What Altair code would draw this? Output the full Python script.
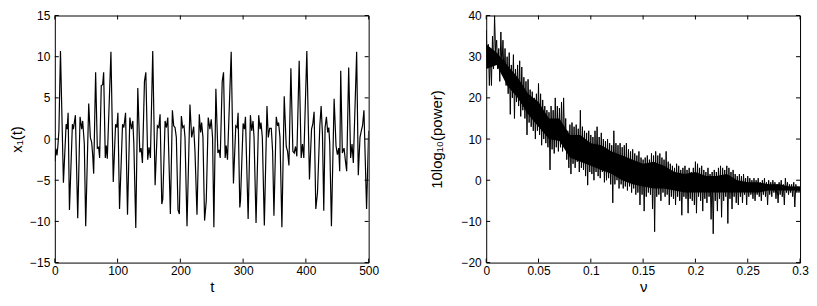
import altair as alt
import pandas as pd

# ---- left panel: x1(t) time series (extrema) ----
T = [0, 2, 3.5, 5, 6.5, 9.0, 13.7, 18.0, 19.6, 21.2, 23.3, 28.0, 29.6, 32.8, 36.5,
     40.2, 42.8, 44.4, 47.0, 49.2, 54.0, 56.6, 58.7, 60.3, 61.9, 65.0, 67.7, 69.8,
     71.4, 74.0, 76.2, 77.8, 80.4, 82.0, 83.6, 89.4, 93.1, 96.8, 98.9, 100.5, 103.1,
     107.9, 110.0, 112.7, 115.8, 119.5, 122.2, 124.3, 125.9, 129.0, 132.2, 135.4,
     137.5, 139.6, 142.8, 145.0, 148.0, 150.1, 152.3, 156.0, 159.8, 163.4, 165.7,
     167.7, 170.4, 172.0, 175.7, 177.8, 180.0, 184.1, 187.3, 189.4, 191.5, 193.6,
     196.3, 198.4, 201.6, 203.7, 205.8, 207.4, 210.6, 215.3, 218.0, 219.6, 221.2,
     223.3, 226.5, 230.2, 232.3, 233.9, 236.0, 238.6, 241.3, 244.4, 247.1, 249.2,
     251.3, 253.4, 256.6, 259.8, 261.9, 263.5, 266.7, 268.8, 271.4, 273.0, 275.1,
     281.0, 284.6, 288.3, 290.4, 292.0, 294.7, 295.8, 300.0, 302.1, 303.7, 308.0,
     311.6, 313.7, 315.8, 317.4, 320.6, 324.8, 327.0, 328.5, 330.6, 333.8, 338.0,
     340.1, 342.3, 344.9, 347.0, 349.1, 352.8, 355.0, 356.5, 358.7, 361.8, 365.5,
     368.7, 370.8, 373.0, 376.1, 379.3, 381.4, 383.5, 385.6, 389.3, 392.5, 394.6,
     396.7, 401.5, 405.7, 409.0, 411.0, 413.1, 415.8, 418.5, 422.2, 424.3, 426.4,
     428.5, 430.6, 432.7, 434.8, 436.5, 438.0, 440.7, 445.0, 448.0, 450.2, 452.3,
     453.9, 455.5, 458.1, 460.8, 462.9, 465.0, 468.2, 471.3, 473.5, 475.6, 480.9,
     483.5, 486.2, 488.3, 490.4, 492.5, 496.7, 500.0]
X1 = [-2.7, -1.2, -2.0, -0.7, 1.0, 10.7, -5.3, 1.8, 1.2, 3.2, -8.6, 1.8, 1.2, 2.9, -9.6,
      2.7, 1.2, 2.2, -0.6, -10.6, 4.3, 0.2, -0.4, -1.9, -4.2, 8.1, -1.1, -1.0,
      -2.3, 6.5, 6.6, 8.1, -2.3, -0.8, -2.4, 10.6, -5.2, 1.8, 1.4, 3.2, -8.5,
      1.8, 1.4, 3.2, -9.2, 2.6, 1.2, 2.2, -0.6, -10.8, 6.2, -1.6,
      -1.1, -2.9, 7.0, 8.1, -2.5, -1.0, -2.3, 10.7, -5.6, 1.6, 1.4,
      3.0, -7.9, -7.3, 2.2, 1.4, 2.6, -9.1, 3.5, 1.6, 1.4, 0.2,
      -8.6, -9.1, 2.8, 1.4, 1.6, 0.2, -10.6, 4.2, 0.2, 0.8, 1.5,
      -1.5, -9.2, 3.0, 0.8, 2.0, 0.2, -9.9, -7.5, 2.6, 1.2, 2.4,
      0.2, -10.7, 6.1, -1.7, -1.3, -2.3, 7.0, 8.1, -2.3, -0.8, -2.5,
      10.6, -5.4, 1.6, 1.4, 3.2, -8.3, -7.5, 1.9, 1.2, 2.7, -9.7,
      2.9, 1.0, 2.2, 0.2, -10.2, 2.9, 1.2, 2.0, 0.2, -10.5, 4.0,
      0.2, 1.3, 1.3, -1.5, -9.3, 2.7, 1.6, 2.0, 0.2, -10.7, 5.2,
      -0.9, -1.5, -3.2, 8.6, -1.5, -1.7, -0.9, -2.1, 9.5, -2.3, -0.6,
      -2.3, 10.7, -4.9, 1.2, 1.8, 3.3, -8.5, -6.5, 1.6, 4.0, 0.6,
      -8.7, 1.4, 2.7, 0.8, 1.4, -0.5, -10.6, 4.9, -0.8, -1.9, -1.1,
      -3.9, 8.3, -1.7, -1.1, -2.6, -3.9, 8.7, -2.3, -0.6, -2.9, 10.6,
      -4.4, 0.2, 1.0, 1.7, 3.5, -8.5, 1.0]

# ---- right panel: power spectrum, upper / lower edges of the band ----
NU_STEP = 0.002
UPPER = [36.5, 33, 31, 35, 40, 34, 32, 36, 34, 32, 30, 31, 28, 30.5, 27, 28, 29, 27.5,
         25, 24, 24.5, 22, 21.5, 20, 21, 23.5, 21, 19.5, 18, 17, 16.5, 18, 17, 20, 18,
         17.5, 19, 20, 15, 12, 13.5, 14, 13, 13.5, 12.5, 17, 13, 12, 11.5, 12, 11, 10.5,
         12, 13, 10.5, 11.5, 10, 9.5, 10, 9, 8.5, 12, 9, 8.5, 9, 8, 8.5, 9, 7.5, 7, 7.5,
         6.5, 6, 7, 5.5, 5, 5.5, 6, 5, 6.5, 6, 7, 6, 6.5, 5.5, 5, 7, 4.5, 4, 3.5, 3, 4,
         3.5, 2.5, 3, 3.5, 2.5, 3, 2, 3, 4.5, 4, 3, 3.5, 2.5, 2, 3, 1.5, 2, 2.5, 2, 3,
         3.5, 3, 2.5, 3.5, 3, 2, 2.5, 1.5, 1, 1.5, 1, 1.5, 0.5, 1, 0.5, 0, 0.5, 0, 0.5,
         -0.5, 0, 0.5, -0.5, 0, -0.5, 0, -0.5, -1, -0.5, 0, -1, 0.5, -0.5, -1, -1, -0.5,
         -1, -1.5, -1.5]
LOWER = [29, 23, 23, 27, 31, 27, 24, 27, 25, 23, 21, 16, 20, 15, 19, 18, 15.5, 17, 15,
         11, 14, 13, 12, 10, 12, 11, 8.5, 10, 9, 8, 2.5, 7.5, 6.5, 8, 7, 8, 7, 8, 5, 3,
         1.5, 4, 3, 4.5, 2, 3, 2.5, 1, -1.2, 2, 1.5, 0, 2, 1, 0.5, 2, -0.5, 0, 0.5, -1,
         -5.5, -1, 0, -2, -1, -2, -1.5, -2.5, -1.5, -3, -2, -3.5, -3, -6, -3.5, -7.5, -4,
         -3, -3.5, -7, -12.5, -4, -3.5, -5, -3, -4, -3.5, -6, -4, -4.5, -6, -4, -5, -8.5,
         -4, -4.5, -8, -4.5, -5, -6, -8, -4, -5, -7.5, -4.5, -5.5, -4, -9.5, -13, -5,
         -7.5, -4.5, -9, -5, -4, -10.5, -4.5, -7, -4, -5.5, -6, -4, -5.5, -3.5, -6, -4,
         -3.5, -4.5, -5, -3.5, -4, -5, -3.5, -4, -6, -3.5, -4, -3, -4.5, -5.5, -3.5, -4,
         -6, -3, -3.5, -3, -4, -6.5, -3, -3]

# solid core of the band (every 0.01)
CORE_STEP = 0.01
CORE_TOP = [33, 31, 28, 25, 21, 19, 15, 15, 11, 11, 9, 8.5, 7, 6, 5, 4, 4.5, 3.5, 2,
            1.5, 2, 1, 1, 1.5, 0, -0.5, -0.5, -1, -1, -1.5, -1.5]
CORE_BOT = [27, 28, 23, 20, 16, 13, 10, 9.5, 5.5, 4.5, 3.5, 2.5, 1.5, 0, -1, -1.5, -2,
            -2, -2.5, -3, -3, -3, -3, -3, -3, -3, -3, -2.5, -2.5, -2.5, -2.5]

X_TICKS_L = [0, 100, 200, 300, 400, 500]
Y_TICKS_L = [-15, -10, -5, 0, 5, 10, 15]
X_TICKS_R = [0, 0.05, 0.1, 0.15, 0.2, 0.25, 0.3]
Y_TICKS_R = [-20, -10, 0, 10, 20, 30, 40]

W, H = 315, 248
TICK = 4
FONT = "Liberation Sans"

left_df = pd.DataFrame({"x": T, "y": X1})

rows = []
for i, u in enumerate(UPPER):
    rows.append((i * NU_STEP, u))
    if i < len(LOWER):
        rows.append((i * NU_STEP + NU_STEP / 2, LOWER[i]))
right_df = pd.DataFrame(rows, columns=["x", "y"])
core_df = pd.DataFrame({"x": [i * CORE_STEP for i in range(len(CORE_TOP))],
                        "y": CORE_TOP, "y2": CORE_BOT})


def panel(df, xdom, ydom, xticks, yticks, xtitle, ytitle, xfmt, ytp, sw, core=None):
    xs = alt.Scale(domain=xdom, nice=False, zero=False)
    ys = alt.Scale(domain=ydom, nice=False, zero=False)
    xax = alt.Axis(values=xticks, format=xfmt, ticks=False, domain=False,
                   grid=False, labelPadding=3, titlePadding=3, labelFlush=False)
    yax = alt.Axis(values=yticks, ticks=False, domain=False, grid=False,
                   labelPadding=5, minExtent=30, maxExtent=30, titlePadding=ytp,
                   labelFlush=False)
    xenc = alt.X("x:Q", scale=xs, title=xtitle, axis=xax)
    yenc = alt.Y("y:Q", scale=ys, title=ytitle, axis=yax)
    layers = []
    if core is not None:
        layers.append(alt.Chart(core).mark_area(color="black", clip=True).encode(
            x=xenc, y=yenc, y2=alt.Y2("y2:Q")))
    layers.append(alt.Chart(df).mark_line(color="black", strokeWidth=sw, clip=True).encode(
        x=xenc, y=yenc))
    xt = pd.DataFrame({"x": xticks})
    yt = pd.DataFrame({"y": yticks})
    layers.append(alt.Chart(xt).mark_rule(color="black").encode(
        x=xenc, y=alt.value(H), y2=alt.value(H - TICK)))
    layers.append(alt.Chart(xt).mark_rule(color="black").encode(
        x=xenc, y=alt.value(0), y2=alt.value(TICK)))
    layers.append(alt.Chart(yt).mark_rule(color="black").encode(
        y=yenc, x=alt.value(0), x2=alt.value(TICK)))
    layers.append(alt.Chart(yt).mark_rule(color="black").encode(
        y=yenc, x=alt.value(W - TICK), x2=alt.value(W)))
    return alt.layer(*layers).properties(width=W, height=H)


p1 = panel(left_df, [0, 500], [-15, 15], X_TICKS_L, Y_TICKS_L, "t", "x₁(t)", "d", 0.5, 1.2)
p2 = panel(right_df, [0, 0.3], [-20, 40], X_TICKS_R, Y_TICKS_R, "ν", "10log₁₀(power)",
           "~g", 11.5, 1.0, core=core_df)

chart = alt.hconcat(p1, p2, spacing=50).properties(
    padding={"left": 1, "top": 0, "right": 0, "bottom": 0}
).configure_view(stroke="black", strokeWidth=1).configure_axis(
    labelFont=FONT, labelFontSize=12, labelColor="black",
    titleFont=FONT, titleFontSize=15, titleFontWeight="normal", titleColor="black"
)

chart.save("out.html", embed_options={"renderer": "svg", "actions": False})
